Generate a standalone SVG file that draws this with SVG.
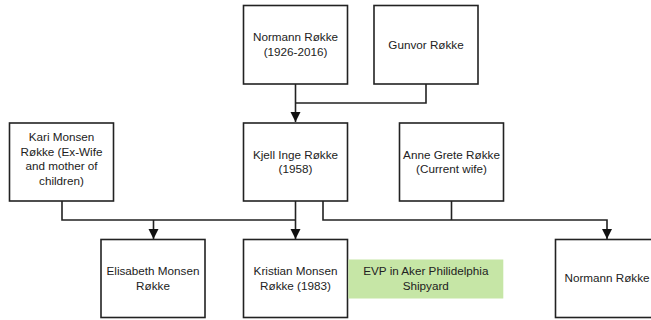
<svg xmlns="http://www.w3.org/2000/svg" width="651" height="320" viewBox="0 0 651 320">
  <style>
    .box { fill: #ffffff; stroke: #222222; stroke-width: 1.6; }
    .note { fill: #c6e6a6; stroke: none; }
    .lbl { font-family: "Liberation Sans", Arial, sans-serif; font-size: 11.7px; fill: #222222; text-anchor: middle; }
    .wire { fill: none; stroke: #222222; stroke-width: 1.6; }
  </style>
  <defs>
    <marker id="arrow" viewBox="0 0 10 12" refX="10" refY="6" markerWidth="10" markerHeight="12" markerUnits="userSpaceOnUse" orient="auto">
      <path d="M0,1 L10,6 L0,11 Z" fill="#111111"/>
    </marker>
  </defs>
  <rect width="651" height="320" fill="#ffffff"/>

  <g id="connectors">
    <!-- parents to Kjell -->
    <path class="wire" d="M295.5,84 V122" marker-end="url(#arrow)"/>
    <path class="wire" d="M426,84 V103 H295.5"/>
    <!-- Kari + Kjell to Elisabeth and Kristian -->
    <path class="wire" d="M62,201 V220 H295.5"/>
    <path class="wire" d="M153.5,220 V239" marker-end="url(#arrow)"/>
    <path class="wire" d="M295.5,201 V239" marker-end="url(#arrow)"/>
    <!-- Kjell + Anne to Normann -->
    <path class="wire" d="M323,201 V220 H607 V239" marker-end="url(#arrow)"/>
    <path class="wire" d="M451.5,201 V220"/>
  </g>

  <g id="normann-sr">
    <rect class="box" x="243.5" y="5.5" width="104" height="78.5"/>
    <text class="lbl" x="295.5" y="41">Normann Røkke</text>
    <text class="lbl" x="295.5" y="55.5">(1926-2016)</text>
  </g>
  <g id="gunvor">
    <rect class="box" x="374" y="5.5" width="104" height="78.5"/>
    <text class="lbl" x="426" y="48.5">Gunvor Røkke</text>
  </g>
  <g id="kari">
    <rect class="box" x="9.5" y="123" width="104" height="78"/>
    <text class="lbl" x="61.5" y="141">Kari Monsen</text>
    <text class="lbl" x="61.5" y="155.5">Røkke (Ex-Wife</text>
    <text class="lbl" x="61.5" y="170">and mother of</text>
    <text class="lbl" x="61.5" y="184.5">children)</text>
  </g>
  <g id="kjell">
    <rect class="box" x="243.5" y="123" width="104" height="78"/>
    <text class="lbl" x="295.5" y="158.5">Kjell Inge Røkke</text>
    <text class="lbl" x="295.5" y="173">(1958)</text>
  </g>
  <g id="anne">
    <rect class="box" x="399.5" y="123" width="104" height="78"/>
    <text class="lbl" x="451.5" y="158.5">Anne Grete Røkke</text>
    <text class="lbl" x="451.5" y="173">(Current wife)</text>
  </g>
  <g id="elisabeth">
    <rect class="box" x="101" y="239.5" width="104" height="78"/>
    <text class="lbl" x="153" y="275">Elisabeth Monsen</text>
    <text class="lbl" x="153" y="289.5">Røkke</text>
  </g>
  <g id="kristian">
    <rect class="box" x="243.5" y="239.5" width="104" height="78"/>
    <text class="lbl" x="295.5" y="275">Kristian Monsen</text>
    <text class="lbl" x="295.5" y="289.5">Røkke (1983)</text>
  </g>
  <g id="kristian-note">
    <rect class="note" x="348.3" y="259.5" width="155" height="39"/>
    <text class="lbl" x="425.8" y="275">EVP in Aker Philidelphia</text>
    <text class="lbl" x="425.8" y="289.5">Shipyard</text>
  </g>
  <g id="normann-jr">
    <rect class="box" x="555.5" y="239.5" width="104" height="78"/>
    <text class="lbl" x="607" y="282">Normann Røkke</text>
  </g>
</svg>
